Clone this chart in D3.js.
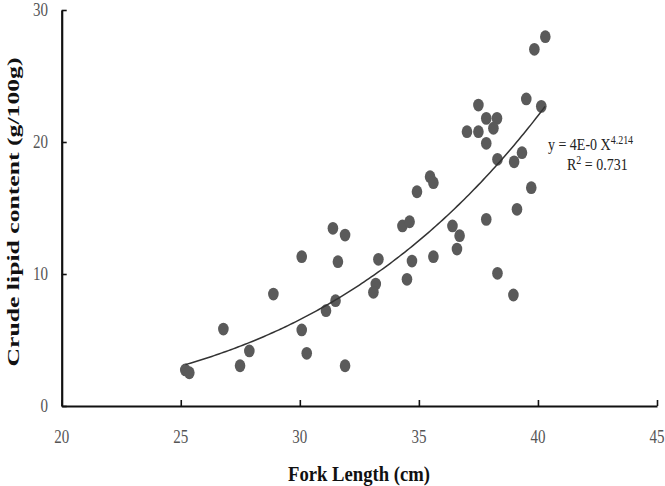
<!DOCTYPE html>
<html>
<head>
<meta charset="utf-8">
<script src="https://cdn.jsdelivr.net/npm/d3@7"></script>
<style>
  body { margin: 0; background: #fff; }
  svg { display: block; font-family: "Liberation Serif", "Times New Roman", serif; }
</style>
</head>
<body>
<svg width="665" height="486"></svg>
<script>
// fork length (cm) and crude lipid (g/100g)
var forkLength = [25.19, 25.36, 26.79, 27.49, 27.88, 28.89, 30.08, 30.08, 30.29, 31.39,
                  31.90, 31.60, 31.10, 31.50, 31.90, 33.30, 33.19, 33.09, 34.31, 34.61,
                  34.92, 35.47, 35.61, 34.71, 35.61, 34.50, 36.41, 36.71, 36.60, 37.02,
                  37.50, 37.50, 37.83, 38.28, 38.13, 37.83, 38.30, 39.00, 39.33, 39.51,
                  40.14, 39.85, 40.31, 39.72, 39.12, 37.83, 38.30, 38.97];
var lipid = [2.73, 2.52, 5.83, 3.05, 4.17, 8.48, 11.31, 5.76, 3.99, 13.46,
             12.95, 10.93, 7.22, 7.98, 3.05, 11.11, 9.24, 8.61, 13.64, 13.96,
             16.23, 17.37, 16.92, 10.98, 11.31, 9.60, 13.64, 12.90, 11.89, 20.78,
             20.78, 22.80, 21.79, 21.79, 21.04, 19.90, 18.69, 18.50, 19.19, 23.26,
             22.70, 27.02, 27.98, 16.54, 14.90, 14.14, 10.05, 8.41];
var xTicks = [20, 25, 30, 35, 40, 45];
var yTicks = [0, 10, 20, 30];
// power trendline y = a * x^b  (a shown truncated as "4E-0" on the chart)
var fitA = 3.9e-6, fitB = 4.214;
var fitRange = [25.2, 40.3];

var svg = d3.select("svg");
var x = d3.scaleLinear().domain([20, 45]).range([61.7, 657]);
var y = d3.scaleLinear().domain([0, 30]).range([406, 10]);
var stretch = "scale(1,1.3)";

// axes
var xAxis = svg.append("g").attr("transform", "translate(0,406)")
    .call(d3.axisBottom(x).tickValues(xTicks).tickSizeInner(-6).tickSizeOuter(0).tickFormat(d3.format("d")));
var yAxis = svg.append("g").attr("transform", "translate(61.7,0)")
    .call(d3.axisLeft(y).tickValues(yTicks).tickSizeInner(-5).tickSizeOuter(0).tickFormat(d3.format("d")));

[xAxis, yAxis].forEach(function(a) {
  a.select(".domain").attr("stroke", "#111").attr("stroke-width", 2.2);
  a.selectAll(".tick line").attr("stroke", "#111").attr("stroke-width", 1.6);
  a.selectAll(".tick text").remove();
});

// tick labels drawn separately so they can be stretched like the source
svg.append("g").selectAll("text").data(xTicks).enter().append("text")
    .attr("transform", function(d) { return "translate(" + x(d) + ",443) " + stretch; })
    .attr("text-anchor", "middle")
    .attr("font-size", 15).attr("fill", "#555")
    .text(function(d) { return d; });
svg.append("g").selectAll("text").data(yTicks).enter().append("text")
    .attr("transform", function(d) { return "translate(48," + (y(d) + 6) + ") " + stretch; })
    .attr("text-anchor", "end")
    .attr("font-size", 15).attr("fill", "#555")
    .text(function(d) { return d; });

// axis titles
svg.append("text")
    .attr("transform", "translate(359,481) " + stretch)
    .attr("text-anchor", "middle")
    .attr("font-size", 16).attr("font-weight", "bold").attr("fill", "#111")
    .attr("textLength", 142).attr("lengthAdjust", "spacingAndGlyphs")
    .text("Fork Length  (cm)");
svg.append("text")
    .attr("transform", "translate(19,212) rotate(-90)")
    .attr("text-anchor", "middle")
    .attr("font-size", 17).attr("font-weight", "bold").attr("fill", "#111")
    .attr("textLength", 309).attr("lengthAdjust", "spacingAndGlyphs")
    .text("Crude lipid content  (g/100g)");

// points
svg.append("g").selectAll("ellipse").data(forkLength).enter().append("ellipse")
    .attr("cx", function(d) { return x(d); })
    .attr("cy", function(d, i) { return y(lipid[i]); })
    .attr("rx", 5.3).attr("ry", 6.4)
    .attr("fill", "#5a5a5a");

// trendline
var fitXs = d3.range(fitRange[0], fitRange[1] + 0.001, 0.1);
svg.append("path")
    .datum(fitXs)
    .attr("fill", "none").attr("stroke", "#333").attr("stroke-width", 1.5)
    .attr("d", d3.line().x(function(d) { return x(d); }).y(function(d) { return y(fitA * Math.pow(d, fitB)); }));

// equation
var eq = svg.append("text")
    .attr("transform", "translate(548,150) scale(1,1.25)")
    .attr("font-size", 14).attr("fill", "#222");
eq.append("tspan").text("y = 4E-0 X");
eq.append("tspan").attr("font-size", 10).attr("dy", -5).text("4.214");
var r2 = svg.append("text")
    .attr("transform", "translate(567,170) scale(1,1.25)")
    .attr("font-size", 14).attr("fill", "#222");
r2.append("tspan").text("R");
r2.append("tspan").attr("font-size", 10).attr("dy", -5).text("2");
r2.append("tspan").attr("dy", 5).text(" = 0.731");
</script>
</body>
</html>
